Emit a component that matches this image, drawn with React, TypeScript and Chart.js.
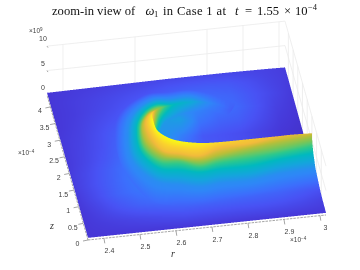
import React, { useEffect, useRef } from "react";
import { Chart, registerables } from "chart.js";
Chart.register(...registerables);

// Axis data
const R_MIN = 2.3556, R_MAX = 3.0167, Z_MAX = 4.36, W_TOP = 10, OMEGA_PEAK = 8.8;
const rTicks = [2.4, 2.5, 2.6, 2.7, 2.8, 2.9, 3];
const rTickLabels = ["2.4", "2.5", "2.6", "2.7", "2.8", "2.9", "3"];
const rGrid = [2.4, 2.6, 2.8, 2.9, 3];
const zTicks = [0, 0.5, 1, 1.5, 2, 2.5, 3, 3.5, 4];
const zTickLabels = ["0", "0.5", "1", "1.5", "2", "2.5", "3", "3.5", "4"];
const wTicks = [0, 5, 10];
const wTickLabels = ["0", "5", "10"];

// Surface floor: omega / peak on a regular r-z table (rows from z = Zmax down to z = 0)
const floorFrac = [
  [.05, .055, .06, .065, .07, .075, .08, .08, .08, .08, .075, .07, .06],
  [.05, .06, .07, .08, .09, .10, .11, .115, .115, .11, .095, .075, .06],
  [.05, .06, .075, .09, .11, .13, .15, .15, .14, .13, .105, .08, .055],
  [.05, .065, .085, .105, .14, .18, .22, .20, .16, .14, .105, .07, .05],
  [.055, .07, .095, .125, .17, .25, .28, .16, .13, .12, .09, .06, .045],
  [.055, .075, .10, .14, .19, .25, .18, .11, .10, .09, .07, .05, .04],
  [.055, .08, .11, .15, .2, .2, .13, .11, .1, .09, .07, .05, .04],
  [.06, .09, .125, .165, .2, .2, .2, .2, .19, .18, .17, .15, .13],
  [.06, .095, .13, .17, .19, .2, .2, .2, .19, .18, .17, .155, .14],
  [.055, .09, .13, .16, .18, .19, .19, .185, .175, .17, .165, .15, .13],
  [.05, .075, .105, .13, .145, .155, .155, .155, .15, .145, .14, .125, .105],
  [.05, .06, .07, .08, .09, .10, .10, .10, .10, .10, .095, .085, .07],
  [.05, .05, .05, .05, .05, .05, .05, .05, .05, .05, .05, .05, .05],
];

// Crescent: level lines read along 15 stations from the tail to the r = Rmax edge
const crestFrac = [.12, .2, .33, .42, .65, .9, 1, 1, 1, 1, .97, .92, .85, .8, .75];
const rInner = [2.824, 2.772, 2.716, 2.667, 2.641, 2.62, 2.605, 2.61, 2.63, 2.655, 2.71, 2.765, 2.85, 2.935, 3.0167];
const zInner = [3.039, 3.194, 3.15, 2.983, 2.853, 2.55, 2.2, 1.9, 1.65, 1.5, 1.42, 1.45, 1.53, 1.6, 1.65];
const rCrest = [2.839, 2.783, 2.725, 2.671, 2.623, 2.596, 2.59, 2.593, 2.6145, 2.646, 2.7, 2.756, 2.842, 2.9265, 3.0167];
const zCrest = [3.202, 3.375, 3.302, 3.158, 2.793, 2.382, 2.048, 1.744, 1.509, 1.353, 1.271, 1.3, 1.383, 1.443, 1.489];
const r82 = [2.839, 2.783, 2.725, 2.671, 2.623, 2.592, 2.574, 2.579, 2.6, 2.643, 2.696, 2.756, 2.8395, 2.9265, 3.0167];
const z82 = [3.202, 3.375, 3.302, 3.158, 2.793, 2.458, 2.178, 1.752, 1.367, 1.228, 1.107, 1.28, 1.305, 1.443, 1.489];
const r68 = [2.839, 2.783, 2.725, 2.671, 2.623, 2.591, 2.566, 2.566, 2.598, 2.644, 2.6965, 2.754, 2.84, 2.926, 3.0167];
const z68 = [3.202, 3.375, 3.302, 3.158, 2.793, 2.643, 2.31, 1.799, 1.402, 1.26, 1.139, 1.224, 1.337, 1.42, 1.497];
const r55 = [2.839, 2.783, 2.725, 2.671, 2.625, 2.59, 2.564, 2.5595, 2.593, 2.646, 2.697, 2.7546, 2.839, 2.924, 3.0167];
const z55 = [3.202, 3.375, 3.302, 3.158, 2.981, 2.811, 2.449, 1.853, 1.424, 1.334, 1.155, 1.24, 1.294, 1.348, 1.454];
const r38 = [2.839, 2.783, 2.725, 2.671, 2.628, 2.586, 2.558, 2.5505, 2.588, 2.645, 2.698, 2.754, 2.837, 2.9235, 3.0167];
const z38 = [3.202, 3.375, 3.302, 3.24, 3.289, 3.066, 2.647, 1.934, 1.38, 1.25, 1.13, 1.16, 1.15, 1.26, 1.33];
const r22 = [2.839, 2.783, 2.733, 2.677, 2.628, 2.573, 2.54, 2.528, 2.574, 2.642, 2.695, 2.752, 2.835, 2.921, 3.0167];
const z22 = [3.202, 3.375, 3.585, 3.588, 3.615, 3.316, 2.812, 1.924, 1.25, 1.05, 0.93, 0.98, 0.97, 1.08, 1.12];
const rOuter = [2.855, 2.797, 2.741, 2.68, 2.617, 2.543, 2.506, 2.4996, 2.548, 2.625, 2.684, 2.742, 2.827, 2.9115, 3.0167];
const zOuter = [3.365, 3.701, 3.915, 3.924, 3.942, 3.546, 2.895, 1.791, 0.8, 0.56, 0.5, 0.56, 0.6, 0.65, 0.6];
const levelFrac = [.82, .68, .55, .38, .22];

const parulaStops: [number, number, number, number][] = [
  [0, 62, 38, 168], [.05, 70, 55, 215], [.1, 72, 82, 244], [.15, 60, 110, 252], [.2, 46, 135, 247],
  [.25, 33, 150, 232], [.3, 20, 165, 220], [.4, 0, 185, 190], [.5, 45, 200, 140], [.55, 90, 200, 110],
  [.6, 125, 197, 85], [.7, 190, 190, 55], [.8, 240, 185, 60], [.9, 250, 210, 45], [1, 249, 251, 20],
];
const lut: number[][] = [];
for (let n = 0; n <= 1023; n++) {
  const v = n / 1023;
  let rgb = [249, 251, 20];
  for (let i = 1; i < parulaStops.length; i++) {
    const a = parulaStops[i - 1], b = parulaStops[i];
    if (v <= b[0]) {
      const f = (v - a[0]) / (b[0] - a[0]);
      rgb = [a[1] + f * (b[1] - a[1]), a[2] + f * (b[2] - a[2]), a[3] + f * (b[3] - a[3])];
      break;
    }
  }
  lut.push(rgb);
}

// View: orthographic projection of (r, z, omega) to the flat chart scales
function project(r: number, z: number, w: number) {
  const u = (r - R_MIN) / (R_MAX - R_MIN), v = z / Z_MAX;
  return { x: 88 + 238 * u - 41 * v, y: 240 - 25 * u - 145 * v - 4.886 * w };
}
function floorAt(r: number, z: number) {
  const fx = Math.max(0, Math.min(11.999, ((r - R_MIN) / (R_MAX - R_MIN)) * 12));
  const fy = Math.max(0, Math.min(11.999, (1 - z / Z_MAX) * 12));
  const i = Math.floor(fx), j = Math.floor(fy), a = fx - i, b = fy - j;
  return (floorFrac[j][i] * (1 - a) + floorFrac[j][i + 1] * a) * (1 - b) +
    (floorFrac[j + 1][i] * (1 - a) + floorFrac[j + 1][i + 1] * a) * b;
}
function cr(p0: number, p1: number, p2: number, p3: number, t: number) {
  return 0.5 * (2 * p1 + (p2 - p0) * t + (2 * p0 - 5 * p1 + 4 * p2 - p3) * t * t + (3 * p1 - p0 - 3 * p2 + p3) * t * t * t);
}

const contours: { r: number[]; z: number[]; level: number | null }[] = [
  { r: rInner, z: zInner, level: null },
  { r: rCrest, z: zCrest, level: 1 },
  { r: r82, z: z82, level: levelFrac[0] },
  { r: r68, z: z68, level: levelFrac[1] },
  { r: r55, z: z55, level: levelFrac[2] },
  { r: r38, z: z38, level: levelFrac[3] },
  { r: r22, z: z22, level: levelFrac[4] },
  { r: rOuter, z: zOuter, level: null },
];

function fracAt(c: number, s: number) {
  const k = contours[c];
  if (k.level === null) return floorAt(k.r[s], k.z[s]);
  return Math.min(k.level, crestFrac[s]);
}

const SS = 3;
const surfacePlugin = {
  id: "surface",
  beforeDatasetsDraw(chart: any) {
    const ctx = chart.ctx as CanvasRenderingContext2D;
    const sx = chart.scales.x, sy = chart.scales.y;
    const P = (r: number, z: number, w: number) => { const p = project(r, z, w); return [sx.getPixelForValue(p.x), sy.getPixelForValue(p.y)]; };
    // walls
    ctx.save();
    ctx.strokeStyle = "#ebebeb";
    ctx.lineWidth = 0.8;
    const seg = (a: number[], b: number[]) => { ctx.beginPath(); ctx.moveTo(a[0], a[1]); ctx.lineTo(b[0], b[1]); ctx.stroke(); };
    for (const w of [5, 10]) {
      seg(P(R_MIN, Z_MAX, w), P(R_MAX, Z_MAX, w));
      seg(P(R_MAX, Z_MAX, w), P(R_MAX, 0, w));
    }
    for (const r of rGrid) seg(P(r, Z_MAX, 0), P(r, Z_MAX, W_TOP));
    for (const z of zTicks) if (z > 0) seg(P(R_MAX, z, 0), P(R_MAX, z, W_TOP));
    ctx.restore();

    // surface: shaded in a supersampled value buffer, back to front
    const W = chart.width, H = chart.height, BW = W * SS, BH = H * SS;
    const buf = new Float32Array(BW * BH).fill(-1);
    const tri = (a: number[], b: number[], c: number[]) => {
      const minX = Math.max(0, Math.floor(Math.min(a[0], b[0], c[0]) * SS));
      const maxX = Math.min(BW - 1, Math.ceil(Math.max(a[0], b[0], c[0]) * SS));
      const minY = Math.max(0, Math.floor(Math.min(a[1], b[1], c[1]) * SS));
      const maxY = Math.min(BH - 1, Math.ceil(Math.max(a[1], b[1], c[1]) * SS));
      const d = (b[1] - c[1]) * (a[0] - c[0]) + (c[0] - b[0]) * (a[1] - c[1]);
      if (Math.abs(d) < 1e-7) return;
      for (let y = minY; y <= maxY; y++) {
        const py = (y + 0.5) / SS;
        for (let x = minX; x <= maxX; x++) {
          const px = (x + 0.5) / SS;
          const l1 = ((b[1] - c[1]) * (px - c[0]) + (c[0] - b[0]) * (py - c[1])) / d;
          const l2 = ((c[1] - a[1]) * (px - c[0]) + (a[0] - c[0]) * (py - c[1])) / d;
          const l3 = 1 - l1 - l2;
          if (l1 < -1e-4 || l2 < -1e-4 || l3 < -1e-4) continue;
          buf[y * BW + x] = l1 * a[2] + l2 * b[2] + l3 * c[2];
        }
      }
    };
    const vert = (r: number, z: number, f: number) => { const q = P(r, z, f * OMEGA_PEAK); return [q[0], q[1], f]; };
    const quad = (a: number[], b: number[], c: number[], d: number[]) => { tri(a, b, c); tri(a, c, d); };
    const n = 48;
    for (let j = 0; j < n; j++) {
      const z1 = Z_MAX * (1 - j / n), z0 = Z_MAX * (1 - (j + 1) / n);
      for (let i = 0; i < n; i++) {
        const r0 = R_MIN + (R_MAX - R_MIN) * i / n, r1 = R_MIN + (R_MAX - R_MIN) * (i + 1) / n;
        quad(vert(r0, z1, floorAt(r0, z1)), vert(r1, z1, floorAt(r1, z1)), vert(r1, z0, floorAt(r1, z0)), vert(r0, z0, floorAt(r0, z0)));
      }
    }
    const ns = crestFrac.length, sub = 6;
    const along = (c: number, s: number, t: number) => {
      const k = contours[c];
      const i0 = Math.max(0, s - 1), i2 = Math.min(ns - 1, s + 1), i3 = Math.min(ns - 1, s + 2);
      const f = (a: number[]) => cr(a[i0], a[s], a[i2], a[i3], t);
      const v = (q: number) => fracAt(c, q);
      return vert(Math.min(R_MAX, f(k.r)), f(k.z), cr(v(i0), v(s), v(i2), v(i3), t));
    };
    const band = (c: number) => {
      for (let s = 0; s < ns - 1; s++) for (let m = 0; m < sub; m++) {
        quad(along(c, s, m / sub), along(c, s, (m + 1) / sub), along(c + 1, s, (m + 1) / sub), along(c + 1, s, m / sub));
      }
    };
    band(0);
    for (let c = contours.length - 2; c >= 1; c--) band(c);

    const img = new ImageData(W, H);
    for (let y = 0; y < H; y++) for (let x = 0; x < W; x++) {
      let rs = 0, gs = 0, bs = 0, cnt = 0;
      for (let j = 0; j < SS; j++) for (let i = 0; i < SS; i++) {
        const t = buf[(y * SS + j) * BW + x * SS + i];
        if (t < 0) continue;
        const col = lut[Math.max(0, Math.min(1023, Math.round(t * 1023)))];
        rs += col[0]; gs += col[1]; bs += col[2]; cnt++;
      }
      if (!cnt) continue;
      const o = (y * W + x) * 4;
      img.data[o] = rs / cnt; img.data[o + 1] = gs / cnt; img.data[o + 2] = bs / cnt;
      img.data[o + 3] = (255 * cnt) / (SS * SS);
    }
    const off = document.createElement("canvas");
    off.width = W; off.height = H;
    off.getContext("2d")!.putImageData(img, 0, 0);
    ctx.drawImage(off, 0, 0);
  },
  afterDatasetsDraw(chart: any) {
    const ctx = chart.ctx as CanvasRenderingContext2D;
    const sx = chart.scales.x, sy = chart.scales.y;
    const P = (r: number, z: number, w: number) => { const p = project(r, z, w); return [sx.getPixelForValue(p.x), sy.getPixelForValue(p.y)]; };
    ctx.save();
    // axes
    ctx.strokeStyle = "#808080"; ctx.lineWidth = 0.7; ctx.setLineDash([2.5, 1]);
    const seg = (a: number[], b: number[]) => { ctx.beginPath(); ctx.moveTo(a[0], a[1]); ctx.lineTo(b[0], b[1]); ctx.stroke(); };
    seg(P(R_MIN, 0, 0), P(R_MAX, 0, 0));
    seg(P(R_MIN, 0, 0), P(R_MIN, Z_MAX, 0));
    ctx.setLineDash([]);
    ctx.fillStyle = "#404040";
    ctx.font = "7px 'Liberation Sans'";
    ctx.textAlign = "center"; ctx.textBaseline = "middle";
    rTicks.forEach((r, i) => {
      const a = P(r, 0, 0);
      seg(a, [a[0] + 0.8, a[1] + 5]);
      ctx.fillText(rTickLabels[i], a[0] + 5.5, a[1] + 12.8);
    });
    zTicks.forEach((z, i) => {
      const a = P(R_MIN, z, 0);
      seg(a, [a[0] - 5, a[1] + 1]);
      ctx.fillText(zTickLabels[i], a[0] - 10.5, a[1] + 4.5);
    });
    wTicks.forEach((w, i) => {
      const a = P(R_MIN, Z_MAX, w);
      if (w > 0) seg(a, [a[0] + 1, a[1] + 1.5]);
      ctx.fillText(wTickLabels[i], a[0] - 4, a[1] - 7);
    });
    const mult = (x: number, y: number, exp: string) => {
      ctx.font = "6.5px 'Liberation Sans'"; ctx.textAlign = "left"; ctx.textBaseline = "alphabetic";
      ctx.fillText("×10", x, y);
      const w = ctx.measureText("×10").width;
      ctx.font = "4.5px 'Liberation Sans'";
      ctx.fillText(exp, x + w, y - 2.5);
    };
    mult(29, 33, "9");
    mult(18, 155, "−4");
    mult(290, 242, "−4");
    ctx.fillStyle = "#303030";
    ctx.font = "italic 10px 'Liberation Serif'"; ctx.textAlign = "center"; ctx.textBaseline = "middle";
    ctx.fillText("r", 173, 254.5);
    ctx.fillText("z", 52, 226);
    // title
    ctx.fillStyle = "#111";
    const big = "12.6px 'Liberation Serif'", ital = "italic 12.6px 'Liberation Serif'", small = "8.5px 'Liberation Serif'";
    const runs: [string, string, number, number][] = [
      ["zoom-in view of", big, 52, 0],
      ["ω", ital, 145.5, 0],
      ["1", small, 154, 2],
      ["in Case 1 at", big, 163, 0],
      ["t", ital, 235, 0],
      ["=", big, 245, 0],
      ["1.55", big, 257, 0],
      ["×", big, 284, 0],
      ["10", big, 295, 0],
      ["−4", small, 308, -4.5],
    ];
    ctx.textAlign = "left"; ctx.textBaseline = "alphabetic";
    for (const [s, f, x, dy] of runs) {
      ctx.font = f;
      (ctx as any).letterSpacing = s === "in Case 1 at" ? "0.35px" : "0px";
      ctx.fillText(s, x, 14.5 + dy);
    }
    ctx.restore();
  },
};

export default function App() {
  const ref = useRef<HTMLCanvasElement>(null);
  useEffect(() => {
    document.body.style.margin = "0";
    const points = rCrest.map((r, i) => project(r, zCrest[i], crestFrac[i] * OMEGA_PEAK));
    const chart = new Chart(ref.current!, {
      type: "scatter",
      data: { datasets: [{ label: "ω1", data: points, pointRadius: 0, showLine: false }] },
      options: {
        responsive: false,
        animation: false,
        layout: { padding: 0 },
        plugins: { legend: { display: false }, tooltip: { enabled: false } },
        scales: {
          x: { type: "linear", min: 0, max: 360, display: false },
          y: { type: "linear", min: 0, max: 270, reverse: true, display: false },
        },
      },
      plugins: [surfacePlugin],
    } as any);
    return () => chart.destroy();
  }, []);
  return <canvas ref={ref} width={360} height={270} style={{ display: "block", background: "#fff" }} />;
}
